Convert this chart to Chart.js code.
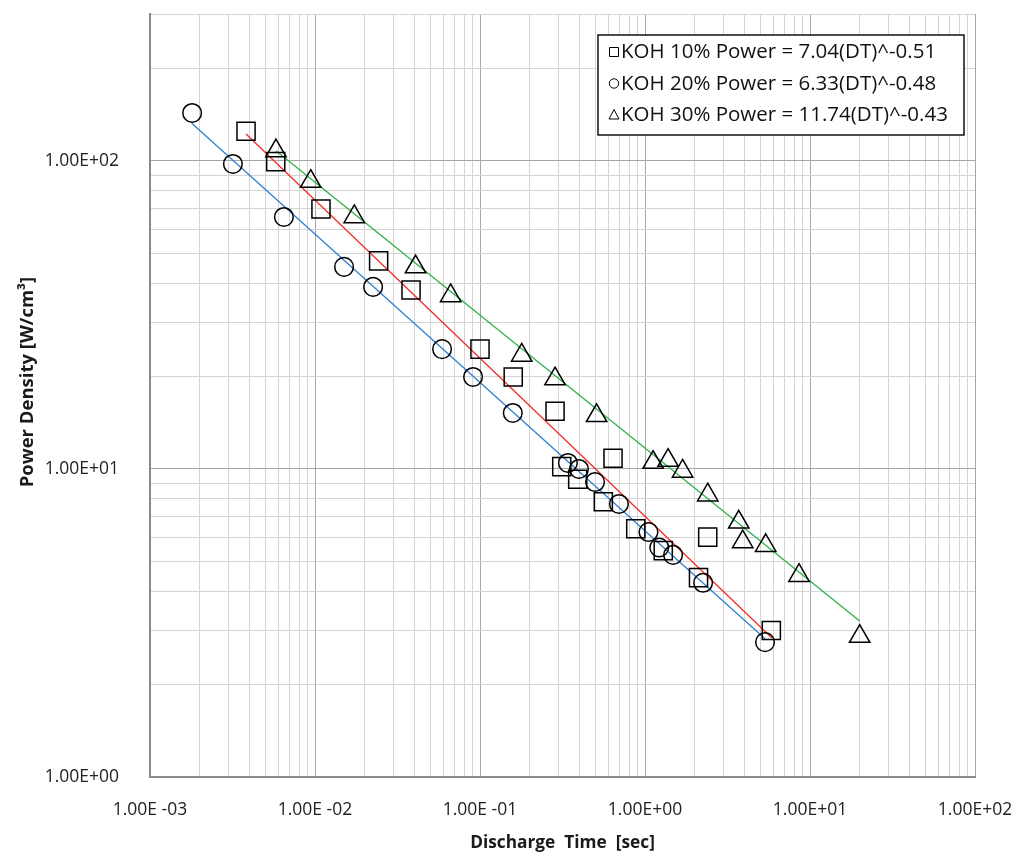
<!DOCTYPE html>
<html><head><meta charset="utf-8">
<script src="https://cdn.jsdelivr.net/npm/chart.js@4.4.1/dist/chart.umd.min.js"></script>
<style>html,body{margin:0;padding:0;background:#fff}#wrap{width:1011px;height:853px}</style>
</head><body><div id="wrap"><canvas id="c" width="1011" height="853"></canvas></div>
<script>
// ---- data ----
const seriesNames = ["KOH 10% Power = 7.04(DT)^-0.51", "KOH 20% Power = 6.33(DT)^-0.48", "KOH 30% Power = 11.74(DT)^-0.43"];

const koh10X = [0.00382, 0.00578, 0.01087, 0.0243, 0.0382, 0.100, 0.159, 0.285, 0.640, 0.313, 0.391, 0.559, 0.879, 1.29, 2.40, 2.11, 5.83];
const koh10Y = [124.9, 99.5, 69.8, 47.4, 38.1, 24.5, 19.9, 15.4, 10.83, 10.18, 9.26, 7.83, 6.40, 5.43, 6.01, 4.44, 2.99];

const koh20X = [0.00180, 0.00318, 0.00648, 0.0150, 0.0225, 0.0589, 0.0908, 0.158, 0.341, 0.398, 0.498, 0.695, 1.05, 1.22, 1.48, 2.25, 5.34];
const koh20Y = [143.2, 97.8, 65.8, 45.3, 39.0, 24.5, 19.9, 15.2, 10.46, 10.0, 9.07, 7.70, 6.24, 5.56, 5.26, 4.27, 2.74];

const koh30X = [0.0058, 0.00942, 0.0173, 0.0407, 0.0664, 0.179, 0.285, 0.509, 1.12, 1.38, 1.69, 2.40, 3.70, 3.91, 5.39, 8.58, 20.0];
const koh30Y = [107.8, 85.8, 65.9, 45.3, 36.5, 23.4, 19.6, 14.9, 10.5, 10.66, 9.83, 8.23, 6.72, 5.80, 5.64, 4.51, 2.86];

// trend line end points
const trend10X = [0.00382, 5.86];  const trend10Y = [122.4, 2.83];
const trend20X = [0.00179, 5.34];  const trend20Y = [132.6, 2.81];
const trend30X = [0.0058, 20.0];   const trend30Y = [108.0, 3.21];

// axes
const xDecades = [0.001, 0.01, 0.1, 1, 10, 100];
const xTickLabels = ["1.00E -03", "1.00E -02", "1.00E -01", "1.00E+00", "1.00E+01", "1.00E+02"];
const xMin = 0.001, xMax = 100;
const yDecades = [1, 10, 100];
const yTickLabels = ["1.00E+00", "1.00E+01", "1.00E+02"];
const yMin = 1, yMax = 300;
const xTitle = "Discharge  Time  [sec]";
const yTitle = "Power Density [W/cm³]";

// ---- helpers ----
const zip = (xs, ys) => xs.map((x, i) => ({ x: x, y: ys[i] }));
function gridTicks(decades, labels, max) {
  const out = [];
  decades.forEach((d, i) => {
    for (let m = 1; m <= 9; m++) {
      const v = d * m;
      if (v > max * 1.000001) break;
      out.push({ value: v, major: m === 1, lab: m === 1 ? labels[i] : '' });
    }
  });
  return out;
}
const FONT = "'Open Sans', Lato, sans-serif";
const majorGrid = '#a6a6a6', minorGrid = '#d4d4d4', axisCol = '#8a8a8a';

const overlay = {
  id: 'overlay',
  afterDraw(chart) {
    const ctx = chart.ctx, ca = chart.chartArea;
    ctx.save();
    // axis titles
    ctx.fillStyle = '#1a1a1a';
    ctx.font = "bold 17.3px " + FONT;
    ctx.textAlign = 'center';
    ctx.textBaseline = 'alphabetic';
    ctx.fillText(xTitle, (ca.left + ca.right) / 2, 848);
    ctx.save();
    ctx.font = "bold 18.5px " + FONT;
    ctx.translate(33, 382);
    ctx.rotate(-Math.PI / 2);
    ctx.fillText(yTitle, 0, 0);
    ctx.restore();

    // legend box
    const bw = 366, bh = 100;
    const bx = ca.right - 11 - bw, by = ca.top + 21;
    ctx.fillStyle = '#fff';
    ctx.fillRect(bx, by, bw, bh);
    ctx.strokeStyle = '#000';
    ctx.lineWidth = 1.4;
    ctx.strokeRect(bx, by, bw, bh);
    ctx.font = "20.5px " + FONT;
    ctx.textAlign = 'left';
    ctx.fillStyle = '#111';
    const styles = ['rect', 'circle', 'triangle'];
    seriesNames.forEach((name, i) => {
      const base = by + 23 + i * 31.5;
      const cy = base - 6;
      const mx = bx + 16;
      ctx.strokeStyle = '#000';
      ctx.lineWidth = 1;
      ctx.beginPath();
      if (styles[i] === 'rect') ctx.rect(mx - 4.5, cy - 4.5, 9, 9);
      else if (styles[i] === 'circle') ctx.arc(mx, cy, 4.7, 0, Math.PI * 2);
      else { ctx.moveTo(mx, cy - 5.5); ctx.lineTo(mx + 5, cy + 4); ctx.lineTo(mx - 5, cy + 4); ctx.closePath(); }
      ctx.stroke();
      ctx.fillText(name, bx + 23, base);
    });
    ctx.restore();
  }
};

const markerCommon = {
  showLine: false,
  pointBorderColor: '#000',
  pointBackgroundColor: 'rgba(0,0,0,0)',
  pointBorderWidth: 1.5,
};
const lineCommon = { showLine: true, pointRadius: 0, borderWidth: 1.3, fill: false };

new Chart(document.getElementById('c'), {
  type: 'scatter',
  data: {
    datasets: [
      Object.assign({ label: seriesNames[0], data: zip(koh10X, koh10Y), pointStyle: 'rect', pointRadius: 12.8 }, markerCommon),
      Object.assign({ label: seriesNames[1], data: zip(koh20X, koh20Y), pointStyle: 'circle', pointRadius: 9.3 }, markerCommon),
      Object.assign({ label: seriesNames[2], data: zip(koh30X, koh30Y), pointStyle: 'triangle', pointRadius: 11.8 }, markerCommon),
      Object.assign({ label: 'trend 10', data: zip(trend10X, trend10Y), borderColor: '#f42a2a' }, lineCommon),
      Object.assign({ label: 'trend 20', data: zip(trend20X, trend20Y), borderColor: '#2f7fd2' }, lineCommon),
      Object.assign({ label: 'trend 30', data: zip(trend30X, trend30Y), borderColor: '#2db24a' }, lineCommon),
    ]
  },
  options: {
    responsive: false,
    animation: false,
    devicePixelRatio: 1,
    layout: { autoPadding: false, padding: { left: 0, right: 36, top: 14, bottom: 0 } },
    plugins: { legend: { display: false }, tooltip: { enabled: false } },
    scales: {
      x: {
        type: 'logarithmic', min: xMin, max: xMax,
        afterBuildTicks: s => { s.ticks = gridTicks(xDecades, xTickLabels, xMax); },
        afterFit: s => { s.height = 76; s.paddingLeft = 0; s.paddingRight = 0; s.paddingTop = 0; s.paddingBottom = 0; },
        grid: { drawTicks: false, color: c => (c.tick && c.tick.major) ? majorGrid : minorGrid, lineWidth: 1 },
        border: { display: true, color: axisCol, width: 2 },
        ticks: { autoSkip: false, maxRotation: 0, padding: 23, color: '#222', font: { family: FONT, size: 17.5 },
          callback: (v, i, t) => t[i].lab }
      },
      y: {
        type: 'logarithmic', min: yMin, max: yMax,
        afterBuildTicks: s => { s.ticks = gridTicks(yDecades, yTickLabels, yMax); },
        afterFit: s => { s.width = 150; s.paddingLeft = 0; s.paddingRight = 0; s.paddingTop = 0; s.paddingBottom = 0; },
        grid: { drawTicks: false, color: c => (c.tick && c.tick.major) ? majorGrid : minorGrid, lineWidth: 1 },
        border: { display: true, color: axisCol, width: 2 },
        ticks: { autoSkip: false, padding: 31, color: '#222', font: { family: FONT, size: 17.5 },
          callback: (v, i, t) => t[i].lab }
      }
    }
  },
  plugins: [overlay]
});
</script>
</body></html>
